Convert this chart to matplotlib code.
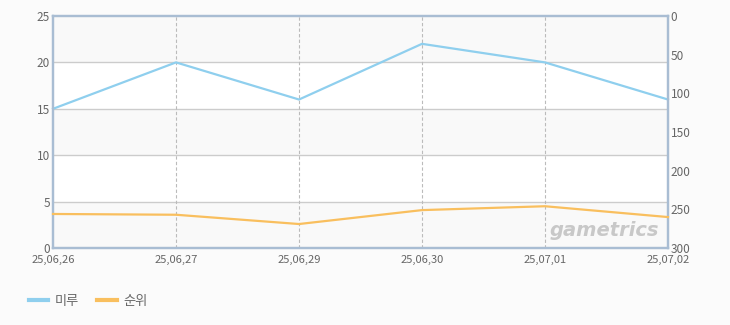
import matplotlib.pyplot as plt
from matplotlib.lines import Line2D

plt.rcParams['font.family'] = ['Noto Sans CJK KR', 'DejaVu Sans']

# Datos
dates = ['25,06,26', '25,06,27', '25,06,29', '25,06,30', '25,07,01', '25,07,02']
miru = [15, 20, 16, 22, 20, 16]
rank = [256, 257, 269, 251, 246, 260]

blue = '#8fcfee'
orange = '#f9bf5e'
spine_col = '#a9bdd3'
text_col = '#666666'

fig = plt.figure(figsize=(7.3, 3.25), dpi=100, facecolor='#fbfbfb')
ax = fig.add_axes([53 / 730, 1 - 248 / 325, 615 / 730, 232 / 325])
ax.set_facecolor('white')

x = list(range(len(dates)))

# Bandas alternas
for lo in [0, 10, 20]:
    ax.axhspan(lo, lo + 5, color='#f9f9f9', zorder=0, lw=0)

# Rejilla
for yv in [5, 10, 15, 20]:
    ax.axhline(yv, color='#cccccc', lw=1, zorder=1)
for xv in x[1:-1]:
    ax.axvline(xv, color='#bbbbbb', lw=0.8, ls=(0, (3, 2)), zorder=1)

ax.plot(x, miru, color=blue, lw=1.6, zorder=3, clip_on=False)
ax.set_xlim(0, len(dates) - 1)
ax.set_ylim(0, 25)
ax.set_yticks([0, 5, 10, 15, 20, 25])
ax.set_xticks(x)
ax.set_xticklabels(dates)

ax2 = ax.twinx()
ax2.plot(x, rank, color=orange, lw=1.6, zorder=3, clip_on=False)
ax2.set_ylim(300, 0)
ax2.set_yticks([0, 50, 100, 150, 200, 250, 300])

for a in [ax, ax2]:
    for s in a.spines.values():
        s.set_color(spine_col)
        s.set_linewidth(1.6)
    a.tick_params(length=0, labelsize=8.5, labelcolor=text_col, pad=2)
ax.tick_params(axis='x', pad=5, labelsize=8)

# Marca de agua
ax.text(0.985, 0.035, 'gametrics', transform=ax.transAxes, ha='right', va='bottom',
        fontsize=14, fontstyle='italic', fontweight='bold', color='#c8c8c8',
        family='DejaVu Sans', zorder=2)

# Leyenda
handles = [Line2D([], [], color=blue, lw=3), Line2D([], [], color=orange, lw=3)]
fig.legend(handles, ['미루', '순위'], loc='center left', bbox_to_anchor=(0.027, 1 - 301 / 325),
           ncol=2, frameon=False, fontsize=9.5, handlelength=1.45, columnspacing=1.4,
           labelcolor=text_col, handletextpad=0.5, borderpad=0.2)

fig.savefig('out.png', dpi=100, facecolor=fig.get_facecolor())
